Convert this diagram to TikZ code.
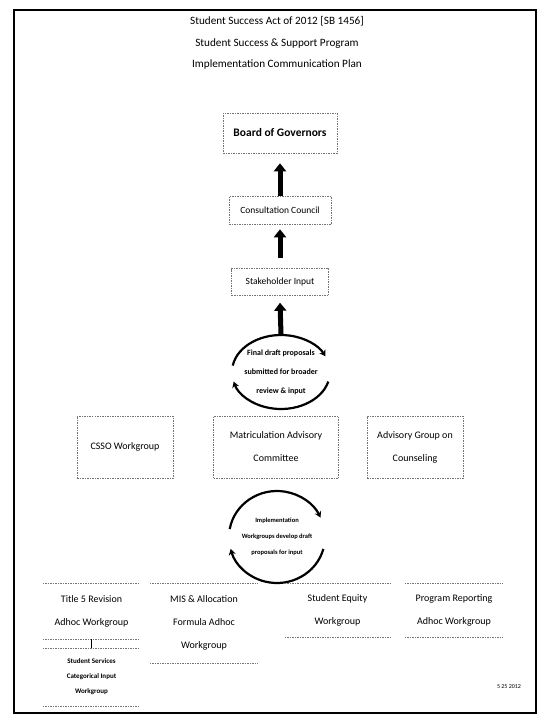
\documentclass[tikz,border=0pt]{standalone}
\usepackage{fontspec}
\setmainfont{Carlito}
\usetikzlibrary{arrows.meta}

\begin{document}
\begin{tikzpicture}[x=1pt, y=-1pt,
    dotbox/.style={draw=black!55, dash pattern=on 1.5pt off 1pt, line width=0.5pt, align=center, inner sep=0pt},
    dotline/.style={draw=black!55, dash pattern=on 1.5pt off 1pt, line width=0.5pt},
    bigarrow/.style={line width=5pt, -{Triangle[width=12pt,length=8pt]}},
    cycarrow/.style={line width=2.2pt, -{Stealth[length=6pt,width=7pt]}},
    lbl/.style={align=center, font=\fontsize{10}{23}\selectfont},
    small/.style={align=center, font=\bfseries\fontsize{6.5}{16}\selectfont}]

  \useasboundingbox (0,0) rectangle (540,721);
  \draw[line width=1.6pt] (14,10) rectangle (536,713);

  % heading
  \node[align=center, font=\fontsize{11.2}{21.5}\selectfont] (title) at (277,43)
    {Student Success Act of 2012 [SB 1456]\\Student Success \& Support Program\\Implementation Communication Plan};

  % approval chain
  \node[dotbox, minimum width=114pt, minimum height=40pt, font=\bfseries\fontsize{11.5}{14}\selectfont] (bog) at (280,133) {Board of Governors};
  \node[dotbox, minimum width=102pt, minimum height=28pt, font=\fontsize{9.5}{12}\selectfont] (cc) at (280,210) {Consultation Council};
  \node[dotbox, minimum width=97pt, minimum height=27pt, font=\fontsize{9.5}{12}\selectfont] (si) at (280,282) {Stakeholder Input};

  \node[small, font=\bfseries\fontsize{8}{19}\selectfont] (fd) at (281,372) {Final draft proposals\\submitted for broader\\review \& input};
  \coordinate (fdtop) at (281,334);
  \draw[cycarrow] (fd.center) ++(190:49 and 37) arc[start angle=190, end angle=335, x radius=49, y radius=37];
  \draw[cycarrow] (fd.center) ++(15:49 and 37) arc[start angle=15, end angle=165, x radius=49, y radius=37];

  \draw[bigarrow] (cc.north) -- ([yshift=-10pt]bog.south);
  \draw[bigarrow] ([yshift=10pt]si.north) -- ([yshift=-5pt]cc.south);
  \draw[bigarrow] (fdtop) -- ([yshift=-7pt]si.south);

  % advisory groups
  \node[dotbox, lbl, minimum width=96pt, minimum height=62pt] (csso) at (125,447) {CSSO Workgroup};
  \node[dotbox, lbl, minimum width=125pt, minimum height=62pt] (mac) at (276,447) {Matriculation Advisory\\Committee};
  \node[dotbox, lbl, minimum width=96pt, minimum height=62pt] (agc) at (415,447) {Advisory Group on\\Counseling};

  \node[small] (iw) at (277,537) {Implementation\\Workgroups develop draft\\proposals for input};
  \draw[cycarrow] (iw.center) ++(190:48 and 46) arc[start angle=190, end angle=335, x radius=48, y radius=46];
  \draw[cycarrow] (iw.center) ++(15:48 and 46) arc[start angle=15, end angle=165, x radius=48, y radius=46];

  % workgroups
  \node[lbl, minimum width=97pt, minimum height=56pt] (t5) at (91.5,611) {Title 5 Revision\\Adhoc Workgroup};
  \node[lbl, minimum width=108pt, minimum height=80pt] (mis) at (204,623) {MIS \& Allocation\\Formula Adhoc\\Workgroup};
  \node[lbl, minimum width=105pt, minimum height=54pt] (se) at (337.5,610) {Student Equity\\Workgroup};
  \node[lbl, minimum width=98pt, minimum height=54pt] (pr) at (454,610) {Program Reporting\\Adhoc Workgroup};
  \node[small, font=\bfseries\fontsize{7}{15}\selectfont, minimum width=97pt, minimum height=58pt] (ss) at (91.5,677) {Student Services\\Categorical Input\\Workgroup};
  \foreach \n in {t5,mis,se,pr,ss}
    \draw[dotline] (\n.north west) -- (\n.north east) (\n.south west) -- (\n.south east);
  \draw[line width=0.6pt] (t5.south) -- (ss.north);

  \node[font=\fontsize{6}{7}\selectfont] (date) at (509,687) {5 25 2012};
\end{tikzpicture}
\end{document}
